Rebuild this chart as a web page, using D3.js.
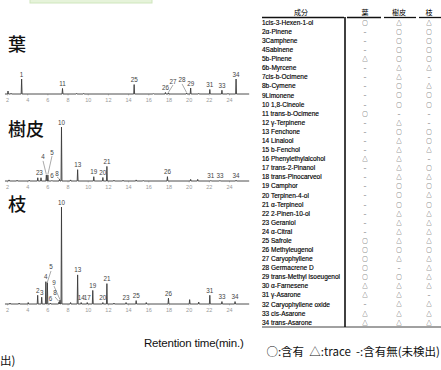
<!DOCTYPE html>
<html>
<head>
<meta charset="utf-8">
<script src="https://cdn.jsdelivr.net/npm/d3@7"></script>
<style>
  body { margin: 0; background: #fff; }
  svg { display: block; }
</style>
</head>
<body>
<svg id="chart" width="441" height="370"></svg>
<script>
// retention time axis ticks (min.)
const rtTicks = [2, 4, 6, 8, 10, 12, 14, 16, 18, 20, 22, 24];

// 葉 chromatogram: retention time, relative height, peak number
const leafTimes   = [2.1, 2.4, 3.45, 7.5, 8.9, 9.6, 14.6, 16.5, 17.7, 18.0, 19.8, 20.2, 21.0, 22.1, 23.3, 23.9, 24.7];
const leafHeights = [20, 5, 100, 37, 4, 4, 63, 3, 10, 8, 6, 40, 4, 30, 25, 4, 100];
const leafLabels  = ["", "", "1", "11", "", "", "25", "", "26", "27", "28", "29", "", "31", "33", "", "34"];
const leafCallouts = { "27": [18.45, 70], "28": [19.35, 77] };

// 樹皮 chromatogram
const barkTimes   = [2.2, 3.0, 4.2, 5.05, 5.37, 5.9, 6.05, 6.45, 7.2, 7.4, 8.3, 9.0, 10.6, 11.5, 11.9, 12.6, 13.5, 14.8, 15.5, 17.9, 20.2, 20.9, 22.2, 23.1, 24.7];
const barkHeights = [2, 1.5, 1.5, 6, 6, 11, 11, 1, 3, 100, 2, 21, 8, 6.5, 27, 1.5, 1.5, 2, 1, 8, 3, 3, 1, 1, 1.5];
const barkLabels  = ["", "", "", "2", "3", "4", "5", "6", "8", "10", "", "13", "19", "20", "21", "", "", "", "", "26", "", "", "31", "33", "34"];
const barkCallouts = { "4": [5.57, 40], "5": [6.46, 49], "8": [6.96, 10] };

// 枝 chromatogram
const twigTimes   = [2.3, 3.2, 4.1, 5.04, 5.44, 5.85, 6.0, 6.3, 7.15, 7.25, 7.4, 8.3, 9.0, 9.35, 9.95, 10.5, 11.5, 11.9, 12.6, 13.8, 14.8, 15.8, 18.0, 20.1, 21.0, 22.1, 23.3, 24.6];
const twigHeights = [1, 1, 1.5, 9, 7, 23, 22, 1, 2, 4, 100, 1.5, 30, 1.5, 1.5, 14, 1.5, 21, 1, 1.5, 3.5, 1.5, 6, 4.5, 2, 9, 2.5, 2.5];
const twigLabels  = ["", "", "", "2", "3", "4", "5", "6", "8", "9", "10", "", "13", "14", "17", "19", "20", "21", "", "23", "25", "", "26", "", "", "31", "33", "34"];
const twigCallouts = { "5": [6.36, 35.6], "9": [6.66, 20], "8": [6.76, 8.8] };

// component table
const compounds = [
  "1cis-3-Hexen-1-ol", "2α-Pinene", "3Camphene", "4Sabinene", "5b-Pinene",
  "6b-Myrcene", "7cis-b-Ocimene", "8b-Cymene", "9Limonene", "10 1,8-Cineole",
  "11 trans-b-Ocimene", "12 γ-Terpinene", "13 Fenchone", "14 Linalool", "15 b-Fenchol",
  "16 Phenylethylalcohol", "17 trans-2-Pinanol", "18 trans-Pinocarveol", "19 Camphor", "20 Terpinen-4-ol",
  "21 α-Terpineol", "22 2-Pinen-10-ol", "23 Geraniol", "24 α-Citral", "25 Safrole",
  "26 Methyleugenol", "27 Caryophyllene", "28 Germacrene D", "29 trans-Methyl isoeugenol", "30 α-Farnesene",
  "31 γ-Asarone", "32 Caryophyllene oxide", "33 cis-Asarone", "34 trans-Asarone"
];
const tableHeads = ["成分", "葉", "樹皮", "枝"];
const leafMarks = ["○","–","–","–","△","–","–","–","–","–","○","–","–","–","–","△","–","–","–","–","–","–","–","–","○","○","○","○","○","△","△","–","△","△"];
const barkMarks = ["△","○","○","○","○","△","△","○","○","○","–","△","○","△","△","△","△","△","○","○","○","△","△","△","△","○","△","–","○","△","△","△","△","△"];
const twigMarks = ["△","○","○","○","○","△","–","△","○","○","–","–","○","○","△","–","○","△","○","△","○","△","△","△","△","○","△","△","△","△","–","△","△","△"];

const svg = d3.select("#chart");

// light green box at the top
svg.append("rect")
  .attr("x", 30).attr("y", -6).attr("width", 122).attr("height", 9)
  .attr("fill", "#e6f3da").attr("stroke", "#cfe6bd");

const x = d3.scaleLinear().domain([2, 24]).range([7, 229]);
const halfW = 0.045;

const panels = [
  { title: "葉", times: leafTimes, heights: leafHeights, labels: leafLabels, callouts: leafCallouts, base: 94, full: 15, titleY: 51 },
  { title: "樹皮", times: barkTimes, heights: barkHeights, labels: barkLabels, callouts: barkCallouts, base: 181, full: 54, titleY: 136 },
  { title: "枝", times: twigTimes, heights: twigHeights, labels: twigLabels, callouts: twigCallouts, base: 304, full: 97, titleY: 211 }
];

panels.forEach(p => {
  const y = d3.scaleLinear().domain([0, 100]).range([p.base, p.base - p.full]);
  const g = svg.append("g");

  g.append("text")
    .attr("x", 8).attr("y", p.titleY)
    .attr("font-family", "Noto Sans CJK JP").attr("font-size", 18).attr("font-weight", 500)
    .attr("fill", "#111")
    .text(p.title);

  // axis labels only, the trace itself is the baseline
  const axis = g.append("g")
    .attr("transform", "translate(0," + p.base + ")")
    .call(d3.axisBottom(x).tickValues(rtTicks).tickSize(1.5).tickPadding(2.5));
  axis.select(".domain").remove();
  axis.selectAll("line").attr("stroke", "#999").attr("stroke-width", 0.5);
  axis.selectAll("text")
    .attr("font-family", "Liberation Sans").attr("font-size", 5.5).attr("fill", "#999");

  // chromatogram trace
  const peaks = p.times.map((t, i) => ({ t: t, v: p.heights[i], label: p.labels[i] }));
  const pts = [[1.8, 0]];
  peaks.forEach(d => { pts.push([d.t - halfW, 0], [d.t, d.v], [d.t + halfW, 0]); });
  pts.push([26, 0]);
  g.append("path")
    .attr("d", d3.line().x(d => x(d[0])).y(d => y(d[1]))(pts))
    .attr("fill", "none").attr("stroke", "#3a3a3a").attr("stroke-width", 0.9);

  // peak numbers
  peaks.filter(d => d.label).forEach(d => {
    const c = p.callouts[d.label];
    const lx = c ? x(c[0]) : x(d.t);
    const ly = c ? y(c[1]) : y(d.v) - 2.5;
    g.append("text")
      .attr("x", lx).attr("y", ly)
      .attr("text-anchor", "middle")
      .attr("font-family", "Liberation Sans").attr("font-size", 6.3).attr("fill", "#444")
      .text(d.label);
    if (c) {
      g.append("line")
        .attr("x1", lx).attr("y1", ly + 1.5)
        .attr("x2", x(d.t)).attr("y2", y(d.v) - 0.5)
        .attr("stroke", "#555").attr("stroke-width", 0.5);
    }
  });
});

svg.append("text")
  .attr("x", 144).attr("y", 347)
  .attr("font-family", "Liberation Sans").attr("font-size", 11.5).attr("letter-spacing", -0.2)
  .attr("fill", "#111")
  .text("Retention time(min.)");

svg.append("text")
  .attr("x", 0).attr("y", 365)
  .attr("font-family", "Noto Sans CJK JP").attr("font-size", 11.5).attr("fill", "#111")
  .text("出)");

// table
const row = d3.scaleBand().domain(d3.range(compounds.length)).range([18, 327]);
const colX = [365, 399, 429];
const t = svg.append("g")
  .attr("font-family", "Liberation Sans").attr("fill", "#000");

t.selectAll("text.head")
  .data(tableHeads)
  .join("text")
  .attr("class", "head")
  .attr("x", (d, i) => i === 0 ? 301 : colX[i - 1])
  .attr("y", 15)
  .attr("text-anchor", "middle")
  .attr("font-family", "Noto Sans CJK JP").attr("font-size", 7)
  .text(d => d);

[[262, 344], [347, 381], [384, 416], [419, 441]].forEach(s => {
  t.append("line").attr("x1", s[0]).attr("x2", s[1]).attr("y1", 17.5).attr("y2", 17.5)
    .attr("stroke", "#111").attr("stroke-width", 1.3);
});
t.append("line").attr("x1", 345).attr("x2", 345).attr("y1", 17).attr("y2", 327)
  .attr("stroke", "#111").attr("stroke-width", 1.6);
t.append("line").attr("x1", 262).attr("x2", 441).attr("y1", 327).attr("y2", 327)
  .attr("stroke", "#111").attr("stroke-width", 0.8);

t.selectAll("text.name")
  .data(compounds)
  .join("text")
  .attr("class", "name")
  .attr("x", 262)
  .attr("y", (d, i) => row(i) + row.bandwidth() / 2 + 2.3)
  .attr("font-size", 6.5)
  .attr("stroke", "#000").attr("stroke-width", 0.15)
  .text(d => d);

[leafMarks, barkMarks, twigMarks].forEach((marks, c) => {
  t.selectAll("text.m" + c)
    .data(marks)
    .join("text")
    .attr("class", "m" + c)
    .attr("x", colX[c])
    .attr("y", (d, i) => row(i) + row.bandwidth() / 2 + 2.2)
    .attr("text-anchor", "middle")
    .attr("font-family", "Noto Sans CJK JP").attr("font-size", 5.5).attr("fill", "#222")
    .text(d => d);
});

svg.append("text")
  .attr("x", 440).attr("y", 356).attr("text-anchor", "end")
  .attr("font-family", "Noto Sans CJK JP").attr("font-size", 11.5).attr("fill", "#111")
  .attr("xml:space", "preserve")
  .text("○:含有  △:trace  -:含有無(未検出)");
</script>
</body>
</html>
